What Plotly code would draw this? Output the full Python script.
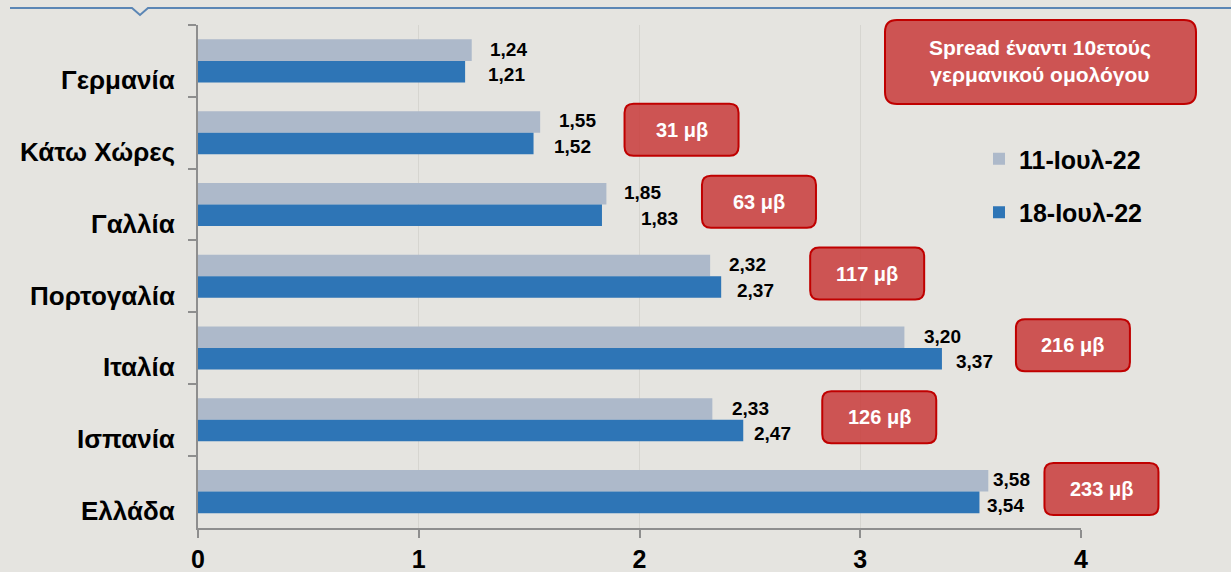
import plotly.graph_objects as go

# ---------------- data ----------------
countries = ["Γερμανία", "Κάτω Χώρες", "Γαλλία", "Πορτογαλία", "Ιταλία", "Ισπανία", "Ελλάδα"]
yield_jul11 = [1.24, 1.55, 1.85, 2.32, 3.20, 2.33, 3.58]
yield_jul18 = [1.21, 1.52, 1.83, 2.37, 3.37, 2.47, 3.54]
spread_bp = [None, 31, 63, 117, 216, 126, 233]
series_names = ["11-Ιουλ-22", "18-Ιουλ-22"]
x_tick_vals = [0, 1, 2, 3, 4]
header_text = "Spread έναντι 10ετούς<br>γερμανικού ομολόγου"

# ---------------- style / layout ----------------
W, H = 1231, 572
L, R, T, B = 198, 150, 25, 44
PW, PH = W - L - R, H - T - B
XMAX = 4
BG = "#E5E4E0"
LIGHT = "#ADB9CA"
DARK = "#2E75B6"
BOX_FILL = "rgba(201,59,57,0.85)"
BOX_LINE = "#C00000"
FONT = "Liberation Sans, Arial, sans-serif"

# per-label pixel offsets (manual placement as in the original)
lbl_dx_light = [16, 17, 16, 17, 18, 18, 3]
lbl_dx_dark = [21, 18, 37, 14, 12, 9, 6]
box_dx = [0, 91, 100, 89, 74, 79, 65]
BOX_W, BOX_H, BOX_R = 114, 52, 9


def fx(px):
    return (px - L) / PW


def fy(py):
    return (H - B - py) / PH


def xpx(v):
    return L + v / XMAX * PW


cat_h = PH / len(countries)


def cat_center(i):
    return T + (i + 0.5) * cat_h


def rrect(x0, y0, x1, y1, r):
    return (
        f"M{fx(x0 + r)},{fy(y0)} L{fx(x1 - r)},{fy(y0)} "
        f"Q{fx(x1)},{fy(y0)} {fx(x1)},{fy(y0 + r)} "
        f"L{fx(x1)},{fy(y1 - r)} Q{fx(x1)},{fy(y1)} {fx(x1 - r)},{fy(y1)} "
        f"L{fx(x0 + r)},{fy(y1)} Q{fx(x0)},{fy(y1)} {fx(x0)},{fy(y1 - r)} "
        f"L{fx(x0)},{fy(y0 + r)} Q{fx(x0)},{fy(y0)} {fx(x0 + r)},{fy(y0)} Z"
    )


fig = go.Figure()
fig.add_trace(go.Bar(y=countries, x=yield_jul11, orientation="h", name=series_names[0],
                     marker=dict(color=LIGHT, line=dict(width=0)), legendgroup="a"))
fig.add_trace(go.Bar(y=countries, x=yield_jul18, orientation="h", name=series_names[1],
                     marker=dict(color=DARK, line=dict(width=0)), legendgroup="b"))

annotations = []
shapes = []

# value labels
for i, c in enumerate(countries):
    annotations.append(dict(x=yield_jul11[i], y=i - 0.15, xref="x", yref="y",
                            text=f"{yield_jul11[i]:.2f}".replace(".", ","),
                            showarrow=False, xanchor="left", yanchor="middle",
                            xshift=lbl_dx_light[i], yshift=1,
                            font=dict(family=FONT, size=19, color="black", weight="bold")))
    annotations.append(dict(x=yield_jul18[i], y=i + 0.15, xref="x", yref="y",
                            text=f"{yield_jul18[i]:.2f}".replace(".", ","),
                            showarrow=False, xanchor="left", yanchor="middle",
                            xshift=lbl_dx_dark[i], yshift=-3,
                            font=dict(family=FONT, size=19, color="black", weight="bold")))
    # category labels (positioned low like the original)
    annotations.append(dict(x=fx(177), y=i + 0.27, xref="paper", yref="y",
                            text=c, showarrow=False, xanchor="right", yanchor="middle",
                            font=dict(family=FONT, size=26, color="black", weight="bold")))

# spread boxes
for i, s in enumerate(spread_bp):
    if s is None:
        continue
    x0 = xpx(yield_jul18[i]) + box_dx[i]
    cy = cat_center(i) - 3
    shapes.append(dict(type="path", xref="paper", yref="paper",
                       path=rrect(x0, cy - BOX_H / 2, x0 + BOX_W, cy + BOX_H / 2, BOX_R),
                       fillcolor=BOX_FILL, line=dict(color=BOX_LINE, width=2), layer="above"))
    annotations.append(dict(x=fx(x0 + BOX_W / 2), y=fy(cy), xref="paper", yref="paper",
                            text=f"{s} μβ", showarrow=False, xanchor="center", yanchor="middle",
                            font=dict(family=FONT, size=20, color="white", weight="bold")))

# header box
shapes.append(dict(type="path", xref="paper", yref="paper",
                   path=rrect(885, 20, 1196, 104, 12),
                   fillcolor=BOX_FILL, line=dict(color=BOX_LINE, width=2), layer="above"))
annotations.append(dict(x=fx(1040), y=fy(61), xref="paper", yref="paper",
                        text=header_text, showarrow=False, xanchor="center", yanchor="middle",
                        font=dict(family=FONT, size=21, color="white", weight="bold")))

# decorative top line with notch
shapes.append(dict(type="path", xref="paper", yref="paper",
                   path=f"M{fx(10)},{fy(8)} L{fx(132)},{fy(8)} L{fx(140)},{fy(15)} "
                        f"L{fx(148)},{fy(8)} L{fx(1231)},{fy(8)}",
                   line=dict(color="#5B86B5", width=2)))

fig.update_layout(
    width=W, height=H,
    margin=dict(l=L, r=R, t=T, b=B, pad=0),
    paper_bgcolor=BG, plot_bgcolor=BG,
    barmode="group", bargap=0.4, bargroupgap=0,
    showlegend=True,
    legend=dict(x=fx(979), y=fy(136), xanchor="left", yanchor="top",
                bgcolor="rgba(0,0,0,0)", traceorder="grouped", tracegroupgap=18,
                font=dict(family=FONT, size=25, color="black", weight="bold"),
                itemwidth=30),
    annotations=annotations,
    shapes=shapes,
    xaxis=dict(range=[0, XMAX], tickvals=x_tick_vals, ticktext=[str(v) for v in x_tick_vals],
               showgrid=True, gridcolor="#D6D5D0", gridwidth=1,
               showline=True, linecolor="#8E8E8E", linewidth=2,
               ticks="outside", ticklen=8, tickcolor="#8E8E8E", tickwidth=2,
               zeroline=False, fixedrange=True, automargin=False,
               tickfont=dict(family=FONT, size=25, color="black", weight="bold")),
    yaxis=dict(categoryorder="array", categoryarray=countries, autorange="reversed",
               showticklabels=False, showgrid=False, automargin=False,
               showline=True, linecolor="#8E8E8E", linewidth=2,
               ticks="outside", ticklen=8, tickcolor="#8E8E8E", tickwidth=2,
               tickson="boundaries", fixedrange=True),
)

fig.write_html("out.html", config={"displayModeBar": False},
               post_script="document.body.style.margin='0';document.body.style.overflow='hidden';")
